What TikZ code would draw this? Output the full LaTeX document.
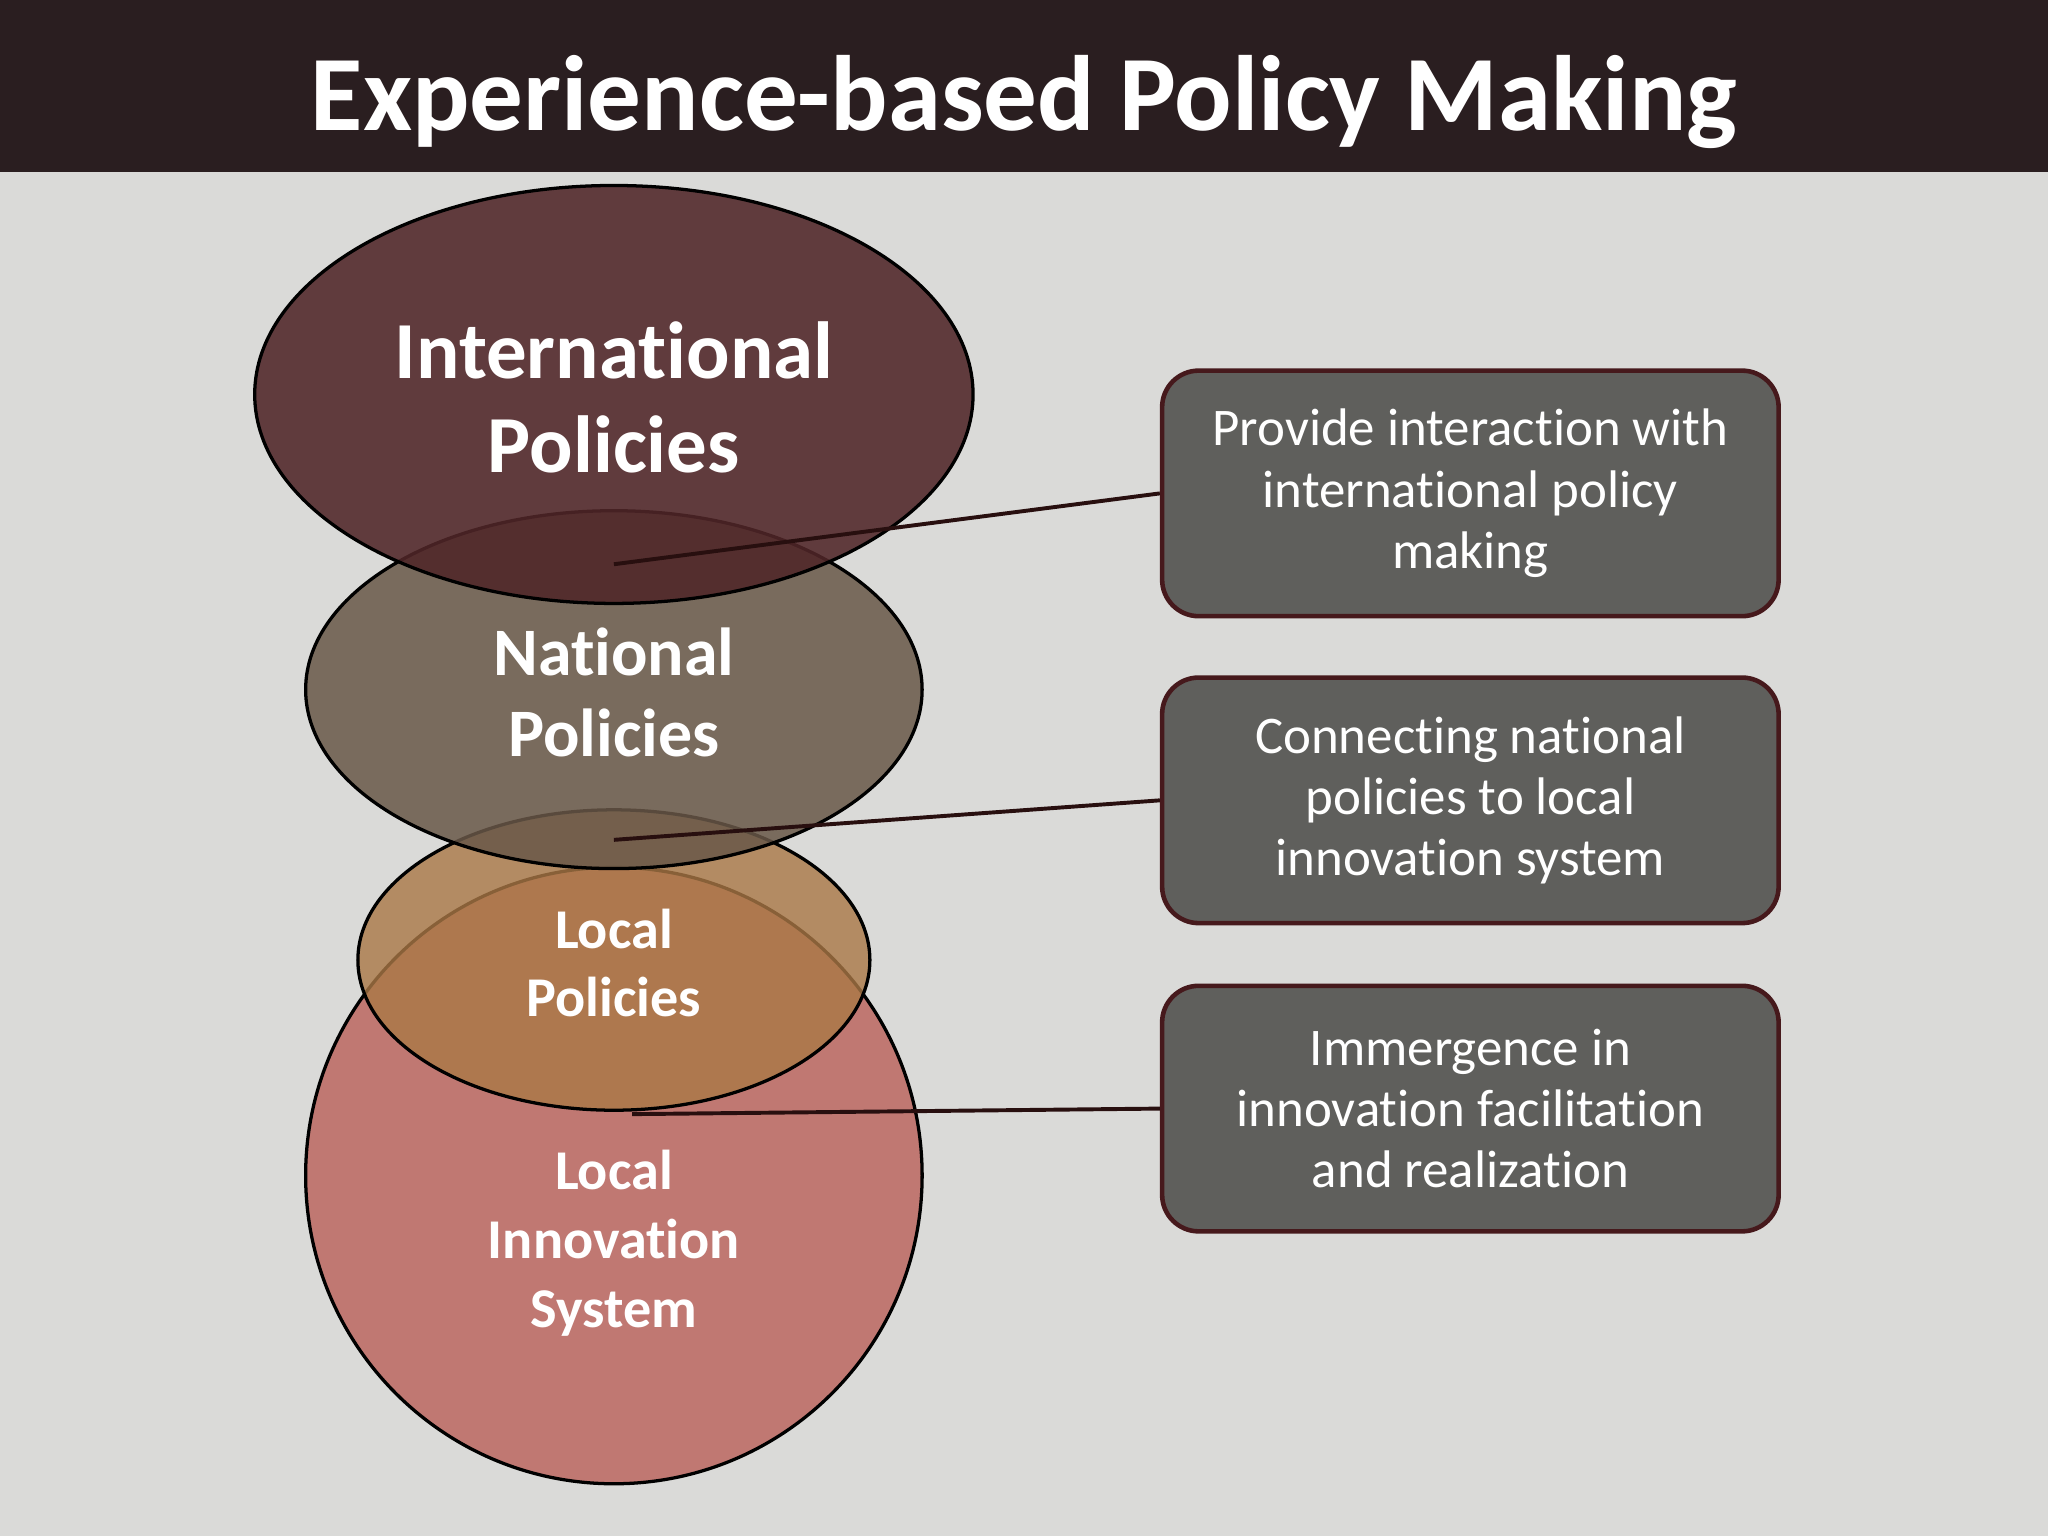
\documentclass[tikz,border=0pt]{standalone}
\usepackage{fontspec}
\setmainfont[RawFeature={-liga;-dlig}]{Carlito}
\definecolor{bg}{RGB}{218,218,216}
\definecolor{bar}{RGB}{42,30,32}
\definecolor{boxfill}{RGB}{95,95,92}
\definecolor{boxline}{RGB}{70,25,28}
\definecolor{connc}{RGB}{40,15,15}
\definecolor{cintl}{RGB}{80,38,40}
\definecolor{cnatl}{RGB}{105,88,72}
\definecolor{clocp}{RGB}{170,120,70}
\definecolor{clis}{RGB}{192,120,114}
\begin{document}
\begin{tikzpicture}[x=1pt,y=-1pt,
  lbl/.style={text=white,font=\bfseries,align=center},
  box/.style={draw=boxline,line width=3.5pt,fill=boxfill,rounded corners=28pt,minimum width=472pt,minimum height=188pt,anchor=north west,text=white,align=center,font=\fontsize{40.5}{47}\selectfont},
  conn/.style={draw=connc,line width=3pt}]
\useasboundingbox (0,0) rectangle (1568,1176);
\fill[bg] (0,0) rectangle (1568,1176);
\fill[bar] (0,0) rectangle (1568,132);
\node[text=white,font=\bfseries\fontsize{82}{90}\selectfont] (title) at (784,78) {Experience-based Policy Making};
\draw[line width=2.5pt,fill=clis] (470,900) circle (236);
\draw[line width=2.5pt,fill=clocp,fill opacity=0.8] (470,735) ellipse (196 and 115);
\draw[line width=2.5pt,fill=cnatl,fill opacity=0.85] (470,528) ellipse (236 and 137);
\draw[line width=2.5pt,fill=cintl,fill opacity=0.88] (470,302) ellipse (275 and 160);
\node[lbl,font=\bfseries\fontsize{62}{72}\selectfont] (intl) at (470,304) {International\\Policies};
\node[lbl,font=\bfseries\fontsize{52}{62}\selectfont] (natl) at (470,530) {National\\Policies};
\node[lbl,font=\bfseries\fontsize{43}{52}\selectfont] (locp) at (470,737) {Local\\Policies};
\node[lbl,font=\bfseries\fontsize{43}{53}\selectfont] (lis) at (470,952) {Local\\Innovation\\System};
\node[box] (b1) at (888,282) {Provide interaction with\\international policy\\making};
\node[box] (b2) at (888,517) {Connecting national\\policies to local\\innovation system};
\node[box] (b3) at (888,753) {Immergence in\\innovation facilitation\\and realization};
\coordinate (c1) at (470,432);
\coordinate (c2) at (470,643);
\coordinate (c3) at (484,853);
\draw[conn] (c1) -- (b1.west);
\draw[conn] (c2) -- (b2.west);
\draw[conn] (c3) -- (b3.west);
\end{tikzpicture}
\end{document}
